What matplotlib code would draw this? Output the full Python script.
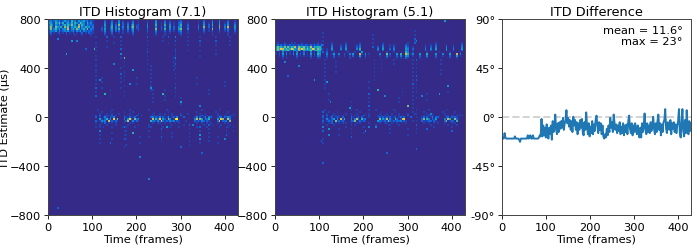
import numpy as np
import matplotlib
matplotlib.use("Agg")
import matplotlib.pyplot as plt
from matplotlib.colors import LinearSegmentedColormap

TITLES = ["ITD Histogram (7.1)", "ITD Histogram (5.1)", "ITD Difference"]
X_LABEL = "Time (frames)"
Y_LABEL = "ITD Estimate (µs)"
ITD_TICKS = [-800, -400, 0, 400, 800]
X_TICKS = [0, 100, 200, 300, 400]
DIFF_TICKS = [-90, -45, 0, 45, 90]
N_COLS, N_ROWS = 108, 100

# cell levels 0-9 : row number -> one digit per 4-frame column, 27 columns per group
ROWS_71 = {
 0: "112121212112121121212121110 000001000100000100000100000 000000010000100000000100000 000000010000100010000100000",
 1: "231242312423152314234231210 000002000200030100000200100 001000030000200100001200000 000010020000300030000200010",
 2: "342153625134251532643152310 000003001301040200201300100 002000040010300201002300010 000010030010400040010300020",
 3: "253142413525362416253142220 000004001402060200302501200 003000050010500301002500020 000020040020500050020400030",
 4: "362164251636142537142534130 000103002503030300403602100 004000030020300402003400020 000030060020300060030700040",
 5: "261352413427135264135261320 000204002403050200302401200 002000060020500302004600030 000020030010600040020300030",
 6: "132241312324123132413212210 000103001302020100201300100 002000030010200201002300010 000010020010200020010200020",
 7: "120101201020102010120102110 000002000200010100100200000 001000020000100100001200010 000000010000100010000100010",
 8: "010000100010000100010000100 000001000100000000000100000 000000010000100000000100000 000000000000100000000100000",
 46:"000000000000000000000000000 010000000100000000010000000 000100000000010000000000000 000000100000000010000000000",
 47:"000000000000000000000000000 000100001000000010000100000 000000100000001000000000000 000100000000001000000100000",
 48:"000000000000000000000000000 001000100100010000010000100 000001000100100010000100010 000001001000000100001000100",
 49:"000000000000000000000000000 102001110201000010101002001 000010201010101010100200000 000100210100100101010011010",
 50:"000000000000000000000000000 201013102130000021020120000 000023021302013012030002000 001302013032000132021320000",
 51:"000000000000000000000000000 004102513081600030482062300 000007152804206301890000000 003706403250000408601730000",
 52:"000000000000000000000000000 201323071212100012701312100 000052313172121323021000100 002121320210000270223060000",
 53:"000000000000000000000000000 100102010101000010010100000 000001001100100100101000000 000100100101000100010100000",
 54:"000000000000000000000000000 001000100001000000100000100 000100000010000010000001000 000000010000100001000010000",
 55:"000000000000000000000000000 100010000100000100000010000 000010000001000100001000000 000100000100000010000100000",
}
ROWS_51 = {
 12:"010001000101000100100010101 000001000000010000000100000 000000010000000000000100000 000000000010000000000000010",
 13:"121212112121121212112121213 000002000010020000010200000 000000020001010000002100000 000010010020000010001000020",
 14:"364536263547265463537254552 000003000020030000020300000 000020030001020000003200100 000020020030000030002000030",
 15:"465874645864375864645863653 001004000030040000030500000 000030040002030000004300200 000030030040000040003000040",
 16:"263254362154263153246245552 001002000010020000010300000 000020020001020000003200100 000020020020000030002000020",
 17:"101030201020301020103010430 002000100000001000100040000 000000000100010000005300100 000001000000100000100000100",
 18:"102040301030402030104020540 003001400300200304000710401 000003000602000405007501300 040005000040003000400070300",
 19:"001020100010201010102010320 002000200100100102000400200 000001000301000203004300100 020003000020001000200040100",
 20:"000010100000100000001000110 001000100000000100000100100 000000000100000101002100000 010001000010000000100010000",
 46:"000000000000000000000000000 010000000000000000010000000 000100000000010000000000000 000000100000000010000000000",
 47:"000000000000000000000000000 000100001000000000000100000 000000100000001000000000000 000100000000001000000100000",
 48:"000000000000000000000000000 001000100000010000010000100 000001000100100010000100010 000001001000000100001000100",
 49:"000000000000000000000000000 102001110101000010101002001 000010201010101010100200000 000100210100100101010011010",
 50:"000000000000000000000000000 201012012102000021012020000 000012021202012012020002000 001202013022000022021210000",
 51:"000000000000000000000000000 003102403071500030372052300 000006142703105201780000000 002605302140000307501620000",
 52:"000000000000000000000000000 201212061212100012601212100 000042212162121223021000100 002111220210000260122050000",
 53:"000000000000000000000000000 100102010101000010010100000 000001001100100100101000000 000100100101000100010100000",
 54:"000000000000000000000000000 001000100000000000100000000 000100000010000010000000000 000000010000000001000010000",
}
# vertical streaks: (column, first row, one digit per row going down)
STREAKS_71 = [
 (27,9,"100101010010100101101010102010200"), (33,9,"2010010"), (37,9,"1001"),
 (41,9,"201010200301000010020101001"), (43,20,"1010100101010010010100"),
 (56,9,"20101010201010100100"), (58,24,"1010101010101"), (65,9,"1010"), (68,9,"2001"),
 (72,9,"30201012111310201001010010201010"), (71,20,"1010101"), (79,9,"1010100100"),
 (86,9,"102010010010"), (95,9,"102010010100"), (103,9,"1010100"),
 (29,55,"1010101010"), (44,55,"1010101001"), (59,36,"10101010"), (57,55,"101001"),
 (64,54,"102010201"), (80,54,"20101010101"), (86,55,"2010103010"), (91,54,"2010101010"),
 (101,55,"101020"), (105,55,"1010"), (43,55,"2010102000100"), (30,30,"101001"),
 (50,30,"10010"), (66,36,"1001010"), (75,40,"1001"), (91,36,"1010"), (100,32,"10100"),
 (36,58,"10010"), (52,60,"1001"), (70,58,"10100"), (96,60,"1001"), (35,36,"1001"), (84,30,"1001"),
]
STREAKS_51 = [
 (27,5,"0010101020102"), (28,21,"10101010101010100"), (34,22,"1010010"),
 (55,8,"1010102"), (56,21,"101010101010"), (79,6,"10102120"), (78,21,"1010101010102010101010101010"),
 (80,21,"20101010202010101001"), (60,21,"1010100"), (94,21,"10100101"), (67,21,"1010"),
 (27,47,"2020101010200010100"), (43,42,"10101010102010101020"), (53,30,"00100100201010201010100103"),
 (80,46,"10101010201010"), (40,53,"1010"), (90,53,"1010"), (65,54,"101010"), (100,53,"10102"),
 (86,38,"1001"), (70,40,"101"), (72,35,"1010"), (36,56,"1001"), (50,55,"10010"), (75,56,"1001"),
 (30,38,"1001"), (98,34,"10010"),
]
# isolated cells: (frame, ITD in microseconds, level)
HITS_71 = [(22,640,3),(52,620,4),(64,610,3),(85,560,2),(105,545,5),(40,500,4),(175,470,6),
           (150,430,3),(192,380,4),(118,290,3),(130,180,5),(185,260,3),(232,240,4),(262,190,5),
           (300,120,4),(345,90,3),(270,-80,4),(192,-130,5),(118,-120,3),(345,-150,4),(330,-70,3),
           (403,-180,3),(210,-320,3),(350,-300,2),(230,-500,3),(140,-210,2),(300,-240,2),(20,-750,2)]
HITS_51 = [(20,440,3),(55,410,3),(30,330,2),(88,300,4),(118,280,4),(125,120,3),(170,80,4),
           (232,220,5),(250,170,3),(300,90,6),(335,170,3),(375,190,4),(392,250,4),(352,30,3),
           (322,610,3),(300,790,3),(385,780,4),(110,-80,3),(105,-200,2),(120,-150,3),(230,-90,3),
           (205,-120,3),(345,-100,2),(255,-300,2),(320,-260,2),(110,-370,2),(120,-100,4)]

DIFF_DEG = [-20,-20,-20,-15,-19,-20,-20,-20,-20,-20,-20,-20,-20,-20,-20,-18,-20,-20,-20,-20,-21,-23,-20,-20,
 -20,-20,-20,-20,-20,-20,-17,-20,-19,-17,-20,-20,-17,-20,-20,-20,-20,-20,-20,-19,-17,-18,-2,-18,-8,-17,
 -10,-19,-7,-14,-20,-10,-16,-8,-21,-4,-14,-8,2,-12,-16,-6,-14,-5,-11,-4,-10,-1,-12,-6,-3,6,-6,-1,-9,-3,
 -12,-4,-14,0,-8,-3,-12,-5,-16,-6,-12,-3,-10,-2,-14,-17,-5,-12,4,-8,-16,-6,-18,-9,-15,-4,-16,-7,-13,-3,
 1,-8,-15,-5,-12,-6,-16,-8,-18,-20,-16,-19,-11,-17,-8,-14,-1,-10,-5,-14,2,-6,-12,-7,-15,-8,-13,-5,-16,-9,
 -15,-6,-17,-8,-14,-7,-16,-4,1,-11,-15,-6,-17,-8,-14,-6,-12,-16,-8,-15,-19,-10,-19,-6,-14,-8,3,-12,-16,-6,
 -14,-8,-15,-5,-13,-7,0,-11,-16,-6,-14,-4,2,-12,-6,-17,-7,-14,-5,-3,7,-11,-15,-5,-10,-12,-3,-16,-6,-11,-5,
 -14,-7,-15,-8,-4,7,-15,-19,-5,7,-13,-18,-3,-15,6,-10,-16,-4,-13,-6]
NOTE = "mean = 11.6°\nmax = 23°"

PARULA = ["#352a87", "#0f5cdd", "#1481d6", "#06a4ca", "#2eb7a4", "#87bf77", "#d1bb59", "#fec832", "#f9fb0e"]
cmap = LinearSegmentedColormap.from_list("parula_like", PARULA)


def build(rows, streaks, hits):
    grid = np.zeros((N_ROWS, N_COLS))
    for r, text in rows.items():
        for c, ch in enumerate(text.replace(" ", "")[:N_COLS]):
            grid[r, c] = max(grid[r, c], int(ch))
    for c, r0, text in streaks:
        for i, ch in enumerate(text):
            grid[r0 + i, c] = max(grid[r0 + i, c], int(ch))
    for frame, itd, level in hits:
        grid[min(N_ROWS - 1, int((800 - itd) / 16)), min(N_COLS - 1, frame // 4)] = level
    return (grid / 9) ** 1.25


plt.rcParams.update({"font.family": "DejaVu Sans", "font.size": 8.2})
fig = plt.figure(figsize=(6.97, 2.51), dpi=100)
W, H = 697, 251
boxes = [(48, 238), (275, 465), (502, 691)]
axes = [fig.add_axes([l / W, 1 - 216 / H, (r - l) / W, 196.5 / H]) for l, r in boxes]

for ax, title, rows, streaks, hits in zip(axes[:2], TITLES[:2], [ROWS_71, ROWS_51], [STREAKS_71, STREAKS_51], [HITS_71, HITS_51]):
    ax.imshow(build(rows, streaks, hits), cmap=cmap, vmin=0, vmax=1, aspect="auto",
              extent=[0, 430, -800, 800], interpolation="nearest")
    ax.set_yticks(ITD_TICKS)

ax = axes[2]
ax.axhline(0, color="lightgray", ls="--", lw=1.4)
ax.plot(np.linspace(0, 430, len(DIFF_DEG)), DIFF_DEG, color="#1f77b4", lw=1.4)
ax.set_xlim(0, 430)
ax.set_ylim(-90, 90)
ax.set_yticks(DIFF_TICKS)
ax.set_yticklabels([f"{t}°" for t in DIFF_TICKS])
ax.text(0.955, 0.965, NOTE, transform=ax.transAxes, ha="right", va="top", fontsize=8.2, linespacing=1.1)

for ax, title in zip(axes, TITLES):
    ax.set_xticks(X_TICKS)
    ax.set_xlabel(X_LABEL, fontsize=8.2, labelpad=1)
    ax.set_title(title, fontsize=9.3, pad=2.5)
    ax.tick_params(length=2.7, width=0.6, pad=2.2, labelsize=8.2)
    for s in ax.spines.values():
        s.set_linewidth(0.7)
        s.set_color("#444444")
axes[0].set_ylabel(Y_LABEL, fontsize=8.2)
axes[0].yaxis.set_label_coords(-0.2, 0.5)

fig.savefig("out.png", dpi=100)
